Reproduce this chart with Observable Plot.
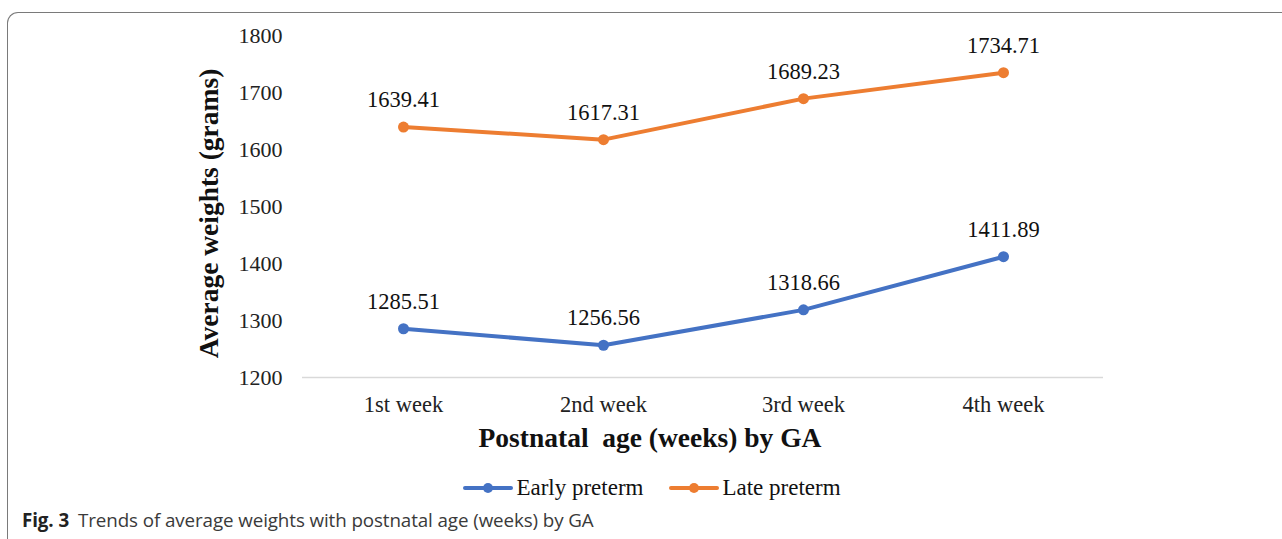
<!DOCTYPE html>
<html>
<head>
<meta charset="utf-8">
<script src="https://cdn.jsdelivr.net/npm/d3@7"></script>
<script src="https://cdn.jsdelivr.net/npm/@observablehq/plot@0.6"></script>
<style>
  html, body { margin: 0; padding: 0; background: #fff; }
  #wrap { position: relative; width: 1282px; height: 539px; overflow: hidden; }
  #frame { position: absolute; left: 7px; top: 12px; width: 1400px; height: 600px;
    border-top: 1.5px solid #7a7a7a; border-left: 1.5px solid #7a7a7a; border-top-left-radius: 11px; box-sizing: border-box; }
  #chart { position: absolute; left: 0; top: 0; }
  #legend { position: absolute; left: 0; width: 1304px; top: 475px; display: flex; justify-content: center;
    font-family: "Liberation Serif", "Times New Roman", serif; font-size: 23px; color: #111; gap: 26px; }
  #legend .item { display: flex; align-items: center; }
  #legend svg { margin-right: 3px; }
  #caption { position: absolute; left: 22px; top: 507px; font-family: "Open Sans", "Noto Sans", sans-serif;
    font-size: 18.8px; color: #3a3a3a; letter-spacing: -0.1px; }
  #caption b { color: #222; margin-right: 9px; }
</style>
</head>
<body>
<div id="wrap">
  <div id="frame"></div>
  <div id="chart"></div>
  <div id="legend"></div>
  <div id="caption"><b>Fig. 3</b>Trends of average weights with postnatal age (weeks) by GA</div>
</div>
<script>
const weeks = ["1st week", "2nd week", "3rd week", "4th week"];
const seriesNames = ["Early preterm", "Late preterm"];
const earlyPreterm = [1285.51, 1256.56, 1318.66, 1411.89];
const latePreterm = [1639.41, 1617.31, 1689.23, 1734.71];
const colors = ["#4472C4", "#ED7D31"];
const yTicks = [1200, 1300, 1400, 1500, 1600, 1700, 1800];
const xLabel = "Postnatal\u00a0 age (weeks) by GA";
const yLabel = "Average weights (grams)";

const rows = [];
[earlyPreterm, latePreterm].forEach((vals, si) => {
  vals.forEach((v, i) => rows.push({week: weeks[i], value: v, series: seriesNames[si]}));
});

const chart = Plot.plot({
  width: 1282,
  height: 460,
  marginLeft: 302,
  marginRight: 179,
  marginTop: 35,
  marginBottom: 83,
  style: {fontFamily: "'Liberation Serif', 'Times New Roman', serif", fontSize: "22px", color: "#222", background: "transparent"},
  x: {type: "point", domain: weeks, padding: 0.5, label: null},
  y: {domain: [1200, 1800], label: null},
  color: {domain: seriesNames, range: colors},
  marks: [
    Plot.ruleY([1200], {stroke: "#d9d9d9", strokeWidth: 1.5}),
    Plot.axisY({ticks: yTicks, tickFormat: "d", tickSize: 0, tickPadding: 20, fontSize: 22, label: null}),
    Plot.axisX({tickSize: 0, tickPadding: 19, fontSize: 22.5, label: null}),
    Plot.line(rows, {x: "week", y: "value", z: "series", stroke: "series", strokeWidth: 4, strokeLinecap: "round"}),
    Plot.dot(rows, {x: "week", y: "value", fill: "series", r: 5.5}),
    Plot.text(rows, {x: "week", y: "value", text: d => d.value.toFixed(2), dy: -27, fontSize: 22.5, fill: "#111"}),
    Plot.text([xLabel], {frameAnchor: "bottom", text: d => d, dx: -53, dy: 69, fontSize: 27.5, fontWeight: "bold", fill: "#111"}),
    Plot.text([yLabel], {frameAnchor: "left", textAnchor: "middle", text: d => d, rotate: -90, dx: -93, dy: 7, fontSize: 27.5, fontWeight: "bold", fill: "#111"})
  ]
});
document.getElementById("chart").appendChild(chart);

const legend = document.getElementById("legend");
seriesNames.forEach((name, i) => {
  const item = document.createElement("div");
  item.className = "item";
  item.innerHTML = `<svg width="50" height="14"><line x1="2" y1="7" x2="48" y2="7" stroke="${colors[i]}" stroke-width="4" stroke-linecap="round"/><circle cx="25" cy="7" r="5" fill="${colors[i]}"/></svg><span>${name}</span>`;
  legend.appendChild(item);
});
</script>
</body>
</html>
